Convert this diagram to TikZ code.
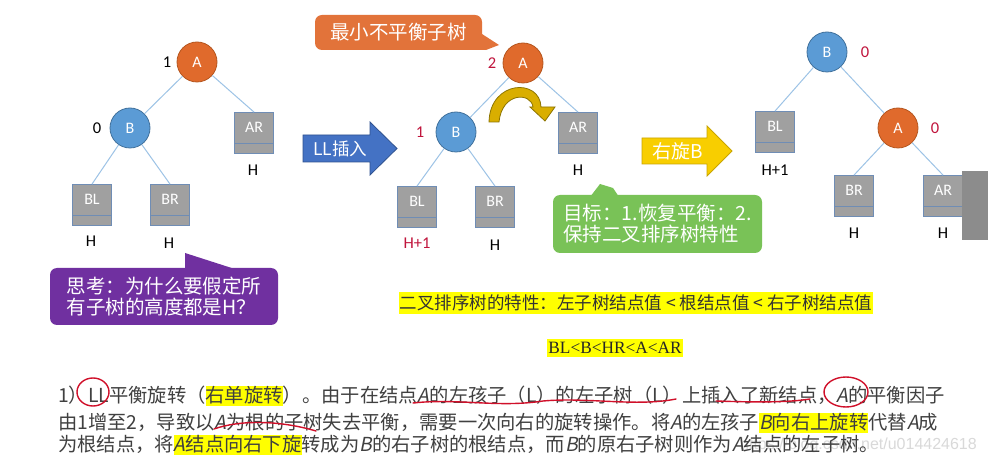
\documentclass[tikz,border=0pt]{standalone}
\usepackage{fontspec}
\setmainfont{Carlito}
\newfontfamily\cjk{Noto Sans CJK SC}
\newfontfamily\cjkit[FakeSlant=0.2]{Noto Sans CJK SC}
\newfontfamily\timesf{Liberation Serif}
\newfontfamily\arialf{Liberation Sans}

\definecolor{nodeA}{HTML}{E06A2C}
\definecolor{nodeAline}{HTML}{B5561F}
\definecolor{nodeB}{HTML}{5B9BD5}
\definecolor{nodeBline}{HTML}{41719C}
\definecolor{boxgray}{HTML}{A0A0A0}
\definecolor{boxline}{HTML}{6F8DB5}
\definecolor{linkblue}{HTML}{9DC3E6}
\definecolor{factorred}{HTML}{C0143C}
\definecolor{arrowblue}{HTML}{4472C4}
\definecolor{arrowblueline}{HTML}{2F528F}
\definecolor{arrowgold}{HTML}{F8CE00}
\definecolor{arrowgoldline}{HTML}{C9A400}
\definecolor{turngold}{HTML}{D9AE00}
\definecolor{turnline}{HTML}{8C7400}
\definecolor{noteorange}{HTML}{E2733A}
\definecolor{notepurple}{HTML}{7030A0}
\definecolor{notegreen}{HTML}{79C257}
\definecolor{marker}{HTML}{FFFF00}
\definecolor{bodygray}{HTML}{404040}
\definecolor{penred}{HTML}{D0102A}
\definecolor{scrollgray}{HTML}{8C8C8C}
\definecolor{markgray}{HTML}{D9D9D9}

\newcommand{\vit}[1]{{\cjkit #1}}
\newcommand{\hlt}[1]{{\setlength{\fboxsep}{0pt}\colorbox{marker}{\rule[-4pt]{0pt}{20pt}#1}}}

\begin{document}
\begin{tikzpicture}[x=1pt,y=-1pt,
  key node/.style={circle,minimum size=40pt,inner sep=0pt,line width=0.8pt,text=white,font=\fontsize{16}{16}\selectfont},
  node a/.style={key node,fill=nodeA,draw=nodeAline},
  node b/.style={key node,fill=nodeB,draw=nodeBline},
  subtree/.style={rectangle,minimum width=39pt,minimum height=41pt,inner sep=0pt,fill=boxgray,draw=boxline,line width=0.8pt,
    text=white,text height=10pt,text depth=10pt,font=\fontsize{16}{16}\selectfont,
    path picture={\draw[boxline,line width=0.8pt] ([yshift=10pt]path picture bounding box.south west) -- ([yshift=10pt]path picture bounding box.south east);}},
  factor/.style={inner sep=0pt,font=\fontsize{16.5}{16}\selectfont},
  hgt/.style={inner sep=0pt,font=\fontsize{16.5}{16}\selectfont},
  link/.style={draw=linkblue,line width=1pt},
  note/.style={rectangle,rounded corners=7pt,text=white,align=left,inner sep=0pt,font=\cjk\fontsize{19.5}{21}\selectfont},
  arrow text/.style={text=white,inner sep=0pt,font=\cjk\fontsize{17.5}{18}\selectfont},
  body/.style={anchor=base west,text=bodygray,inner sep=0pt,font=\cjk\fontsize{19.3}{24}\selectfont},
  pen/.style={draw=penred,line width=1.4pt,line cap=round}]

  \path[use as bounding box,fill=white] (0,0) rectangle (988,462);

  % first tree
  \node[node a] (a1) at (197,62) {A};
  \node[node b] (b1) at (130,128) {B};
  \node[subtree] (ar1) at (254,133) {AR};
  \node[subtree] (bl1) at (92,205) {BL};
  \node[subtree] (br1) at (170,205) {BR};
  \node[factor] (fa1) at (167,62) {1};
  \node[factor] (fb1) at (97,128) {0};
  \node[hgt] (har1) at (253,170) {H};
  \node[hgt] (hbl1) at (91,241) {H};
  \node[hgt] (hbr1) at (169,243) {H};

  \path[link]
    (a1) edge (b1)
    (a1) edge (ar1.north)
    (b1) edge (bl1.north)
    (b1) edge (br1.north);

  % second tree
  \node[node a] (a2) at (523,63) {A};
  \node[node b] (b2) at (456,132) {B};
  \node[subtree] (ar2) at (578,133) {AR};
  \node[subtree] (bl2) at (417,207) {BL};
  \node[subtree] (br2) at (495,207) {BR};
  \node[factor,text=factorred] (fa2) at (492,63) {2};
  \node[factor,text=factorred] (fb2) at (420,132) {1};
  \node[hgt] (har2) at (578,170) {H};
  \node[hgt,text=factorred] (hbl2) at (417,243) {H+1};
  \node[hgt] (hbr2) at (495,245) {H};

  \path[link]
    (a2) edge (b2)
    (a2) edge (ar2.north)
    (b2) edge (bl2.north)
    (b2) edge (br2.north);

  % third tree
  \node[node b] (b3) at (827,52) {B};
  \node[subtree] (bl3) at (775,132) {BL};
  \node[node a] (a3) at (898,128) {A};
  \node[subtree] (br3) at (854,196) {BR};
  \node[subtree] (ar3) at (943,196) {AR};
  \node[factor,text=factorred] (fb3) at (865,52) {0};
  \node[factor,text=factorred] (fa3) at (935,128) {0};
  \node[hgt] (hbl3) at (775,170) {H+1};
  \node[hgt] (hbr3) at (854,233) {H};
  \node[hgt] (har3) at (943,233) {H};

  \path[link]
    (b3) edge (bl3.north)
    (b3) edge (a3)
    (a3) edge (br3.north)
    (a3) edge (ar3.north);

  \fill[scrollgray] (962,171) rectangle (988,240);

  % block arrows
  \filldraw[fill=arrowblue,draw=arrowblueline,line width=0.8pt] (303,135) -- (370,135) -- (370,122) -- (397,148.5)
    -- (370,175) -- (370,162) -- (303,162) -- cycle;
  \node[arrow text] (ins) at (340,148.5) {LL插入};
  \filldraw[fill=arrowgold,draw=arrowgoldline,line width=0.8pt] (642,138) -- (707,138) -- (707,126) -- (732,151)
    -- (707,176) -- (707,164) -- (642,164) -- cycle;
  \node[arrow text,font=\cjk\fontsize{19}{19}\selectfont] (rot) at (678,151) {右旋B};

  % turning arrow
  \filldraw[fill=turngold,draw=turnline,line width=0.8pt] (489,122) .. controls (490,80) and (540,78) .. (541,107)
    -- (555,107) -- (545,121) -- (530,107) -- (533,107) .. controls (531,92) and (502,92) .. (499,122) -- cycle;

  % callouts
  \node[note,fill=noteorange,minimum width=167pt,minimum height=35pt] (least) at (398.5,32.5) {最小不平衡子树};
  \fill[noteorange] (482,34) -- (499,45) -- (486,50) -- (476,50) -- (476,34) -- cycle;
  \node[note,fill=notepurple,minimum width=228pt,minimum height=57pt] (ask) at (164,296.5) {思考：为什么要假定所\\有子树的高度都是H？};
  \fill[notepurple] (185,271) -- (185,253) -- (241,271) -- cycle;
  \node[note,fill=notegreen,minimum width=209pt,minimum height=58pt] (goal) at (657.5,224) {目标：1.恢复平衡：2.\\保持二叉排序树特性};
  \fill[notegreen] (590,197) -- (600,184) -- (613,188) -- (619,197) -- cycle;

  % property
  \node[fill=marker,inner xsep=1pt,inner ysep=2.5pt,text=black!80,font=\cjk\fontsize{17.5}{18}\selectfont] (prop) at (636,303)
    {二叉排序树的特性：左子树结点值 < 根结点值 < 右子树结点值};
  \node[fill=marker,inner xsep=1pt,inner ysep=3pt,text=black!85,font=\timesf\fontsize{17.3}{18}\selectfont] (order) at (615,348)
    {BL<B<HR<A<AR};

  % text
  \node[anchor=base east,text=markgray,inner sep=0pt,font=\arialf\fontsize{16}{16}\selectfont] (wm) at (977,449) {https://blog.csdn.net/u014424618};
  \node[body] (line1) at (58,402) {1）LL平衡旋转（\hlt{右单旋转}）。由于在结点\vit{A}的左孩子（L）的左子树（L）上插入了新结点，\vit{A}的平衡因子};
  \node[body] (line2) at (58,429) {由1增至2，导致以\vit{A}为根的子树失去平衡，需要一次向右的旋转操作。将\vit{A}的左孩子\hlt{\vit{B}向右上旋转}代替\vit{A}成};
  \node[body] (line3) at (58,451) {为根结点，将\hlt{\vit{A}结点向右下旋}转成为\vit{B}的右子树的根结点，而\vit{B}的原右子树则作为\vit{A}结点的左子树。};

  % pen marks
  \draw[pen] (93,392) ellipse [x radius=16,y radius=14];
  \draw[pen] (846,392) ellipse [x radius=22,y radius=15];
  \draw[pen] (413,403) .. controls (458,398) and (498,408) .. (543,401) .. controls (588,397) and (636,407) .. (676,399);
  \draw[pen] (716,401) .. controls (746,402) and (786,403) .. (810,399);
  \draw[pen] (214,429) .. controls (239,420) and (279,420) .. (316,431);

\end{tikzpicture}
\end{document}
